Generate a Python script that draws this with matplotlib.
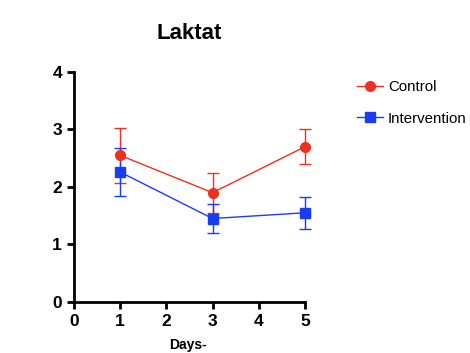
import numpy as np
import matplotlib.pyplot as plt
from matplotlib.lines import Line2D

plt.rcParams['font.family'] = ['Liberation Sans', 'DejaVu Sans']

days = np.array([1, 3, 5])
control = np.array([2.55, 1.90, 2.70])
control_err = np.array([0.48, 0.35, 0.30])
intervention = np.array([2.26, 1.45, 1.55])
intervention_err = np.array([0.42, 0.26, 0.28])

red = '#f0301e'
blue = '#1a3cf5'

fig = plt.figure(figsize=(4.7, 3.53), dpi=100)
ax = fig.add_axes([0.157, 0.145, 0.492, 0.651])

for y, err, c, m in [(control, control_err, red, 'o'), (intervention, intervention_err, blue, 's')]:
    lines = ax.errorbar(days, y, yerr=err, color=c, marker=m, markersize=7,
                        linewidth=1, elinewidth=1, capsize=4, capthick=1)
    for art in lines.get_children():
        art.set_clip_on(False)

ax.set_xlim(0, 5)
ax.set_ylim(0, 4)
ax.set_xticks(range(0, 6))
ax.set_yticks(range(0, 5))
for s in ['top', 'right']:
    ax.spines[s].set_visible(False)
for s in ['left', 'bottom']:
    ax.spines[s].set_linewidth(2)
ax.tick_params(width=2, length=5, labelsize=12.5)
for lab in ax.get_xticklabels() + ax.get_yticklabels():
    lab.set_fontweight('bold')

ax.set_title('Laktat', fontsize=16, fontweight='bold', pad=24)
fig.text(0.40, 0.003, 'Days-', fontsize=10, fontweight='bold', ha='center', va='bottom')

handles = [Line2D([], [], color=red, marker='o', markersize=7, linewidth=1),
           Line2D([], [], color=blue, marker='s', markersize=7, linewidth=1)]
ax.legend(handles, ['Control', 'Intervention'], loc='upper left',
          bbox_to_anchor=(1.199, 0.99), frameon=False, fontsize=10.8,
          handlelength=1.7, labelspacing=1.15, handletextpad=0.35, borderaxespad=0)

fig.savefig('out.png', dpi=100)
